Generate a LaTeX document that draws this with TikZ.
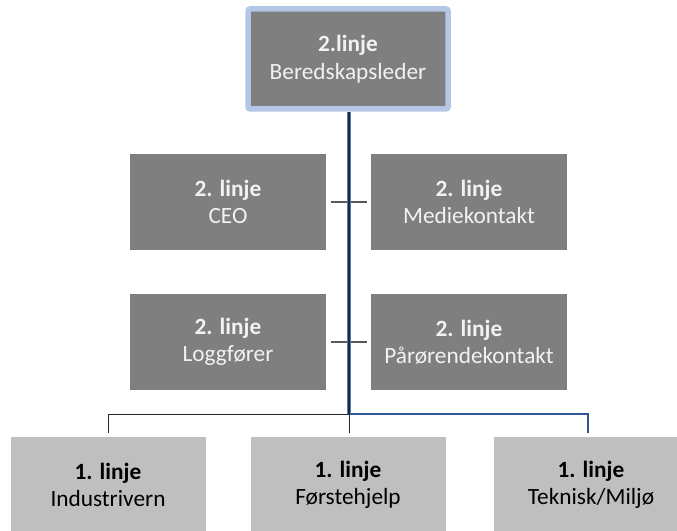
\documentclass[tikz,border=0pt]{standalone}
\usepackage{fontspec}
\setmainfont{Carlito}
\usetikzlibrary{calc}
\definecolor{boxdark}{HTML}{7F7F7F}
\definecolor{boxlight}{HTML}{BFBFBF}
\definecolor{topedge}{HTML}{B4C7E7}
\definecolor{navy}{HTML}{14284B}
\definecolor{navyedge}{HTML}{5B7BA8}
\definecolor{busblue}{HTML}{2F5597}
\definecolor{tickgray}{HTML}{595959}
\definecolor{paletext}{HTML}{F2F2F2}
\tikzset{
  darkbox/.style={rectangle, fill=boxdark, minimum width=196pt, minimum height=96pt, inner sep=0pt, align=center, text=paletext, font=\fontsize{23.3}{27.5}\selectfont},
  lightbox/.style={rectangle, fill=boxlight, minimum width=195pt, minimum height=96pt, inner sep=0pt, align=center, text=black, font=\fontsize{23.3}{27.5}\selectfont},
  topbox/.style={darkbox, draw=topedge, line width=5.5pt, rounded corners=2pt, minimum width=200pt, minimum height=100pt},
  tickline/.style={draw=tickgray, line width=1.3pt},
}
\begin{document}
\begin{tikzpicture}[x=1pt,y=1pt]
\useasboundingbox (0,0) rectangle (677,530);
\clip (0,0) rectangle (677,530);
\node[topbox] (top) at (348,471) {\textbf{2.linje}\\Beredskapsleder};
\node[darkbox] (ceo) at (228,328) {\textbf{2. linje}\\CEO};
\node[darkbox] (medie) at (469,328) {\textbf{2. linje}\\Mediekontakt};
\node[darkbox] (logg) at (228,188) {\textbf{2. linje}\\Loggfører};
\node[darkbox] (paa) at (469,188) {\textbf{2. linje}\\Pårørendekontakt};
\node[lightbox] (ind) at (108,45) {\textbf{1. linje}\\Industrivern};
\node[lightbox] (forst) at (348,45) {\textbf{1. linje}\\Førstehjelp};
\node[lightbox] (tek) at (591,45) {\textbf{1. linje}\\Teknisk/Miljø};
\coordinate (bus) at (349,116);
\coordinate (leftdrop) at (108,97);
\coordinate (middrop) at (349,97);
\coordinate (rightdrop) at (588,97);
% ticks
\draw[tickline] ($(ceo.east)+(5,0)$) -- ($(medie.west)+(-4,0)$);
\draw[tickline] ($(logg.east)+(5,0)$) -- ($(paa.west)+(-4,0)$);
% left bus, thin
\draw[line width=0.9pt, draw=black!85] (bus) -| (leftdrop);
\draw[line width=0.9pt, draw=black!85] (bus) -- (middrop);
% right bus, blue
\draw[line width=2.8pt, draw=busblue] (bus) -| (rightdrop);
% main trunk
\draw[line width=3.6pt, draw=navyedge] (top.south -| bus) -- (bus);
\draw[line width=2.2pt, draw=navy] (top.south -| bus) -- (bus);
\end{tikzpicture}
\end{document}
